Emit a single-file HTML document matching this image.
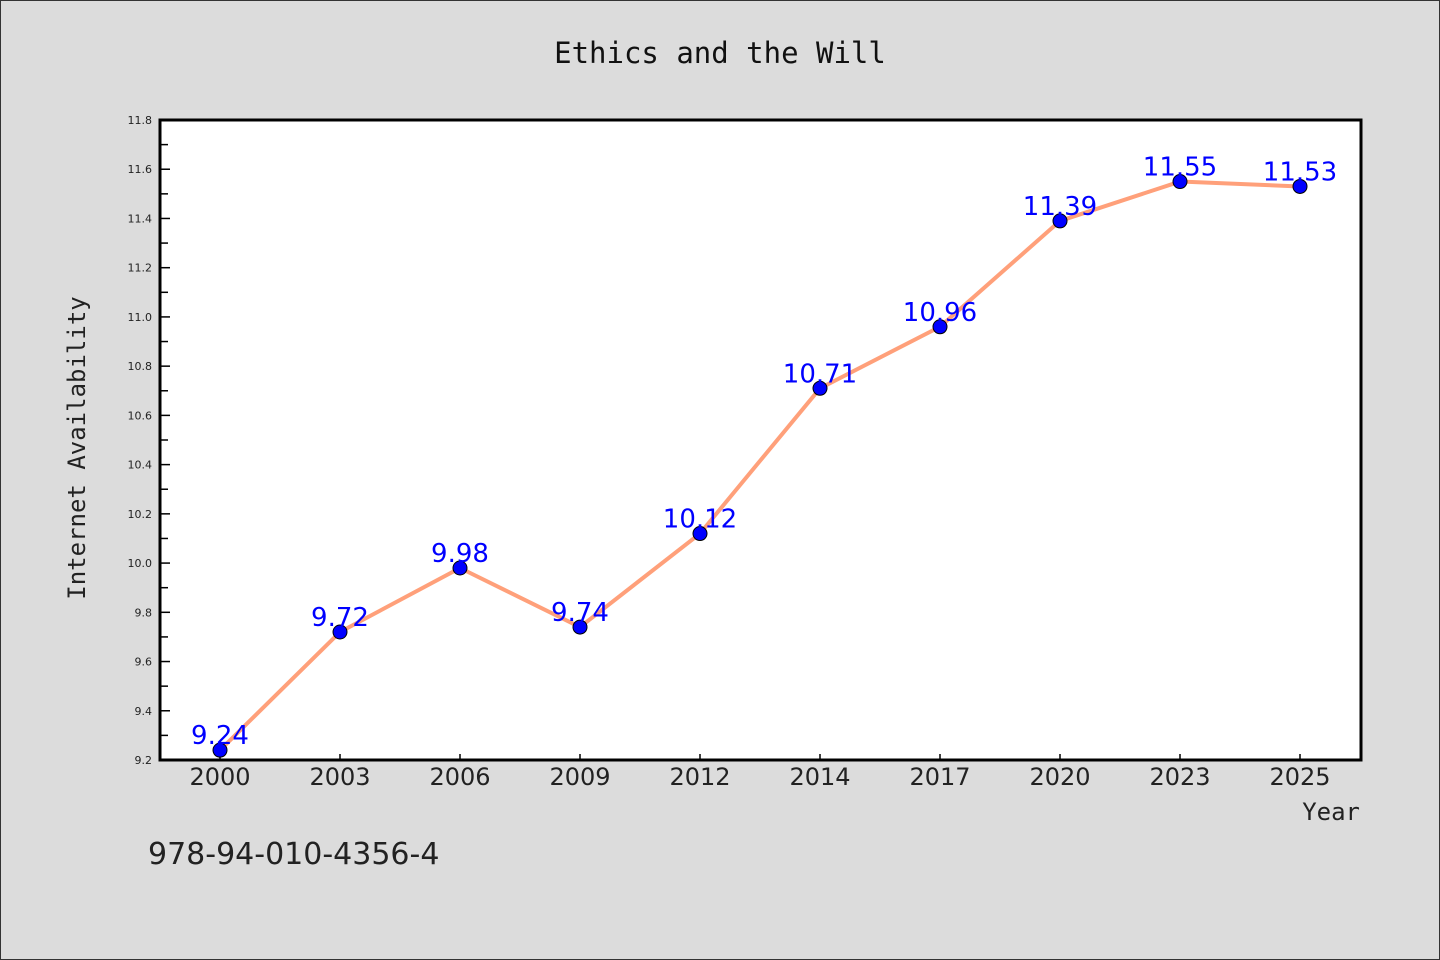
<!DOCTYPE html>
<html><head><meta charset="utf-8"><style>
html,body{margin:0;padding:0;background:#dcdcdc;}
svg{display:block;font-family:"DejaVu Sans","Liberation Sans",sans-serif;}
</style></head><body>
<svg id="chart" width="1440" height="960" viewBox="0 0 1440 960">
<rect x="0.5" y="0.5" width="1439" height="959" fill="#dcdcdc" stroke="#333"/>
<text x="720" y="63" text-anchor="middle" font-size="29" font-family="DejaVu Sans Mono, Liberation Mono, monospace" fill="#111">Ethics and the Will</text>
<rect x="160" y="120" width="1201" height="640" fill="#fff"/>
<g id="yaxis"></g>
<g id="xaxis"></g>
<g id="series"></g>
<rect x="160" y="120" width="1201" height="640" fill="none" stroke="#000" stroke-width="3"/>
<text transform="translate(85,448) rotate(-90)" text-anchor="middle" font-size="24" font-family="DejaVu Sans Mono, Liberation Mono, monospace" fill="#222">Internet Availability</text>
<text x="1360" y="820" text-anchor="end" font-size="24" font-family="DejaVu Sans Mono, Liberation Mono, monospace" fill="#222">Year</text>
<text x="148" y="864" font-size="30" fill="#222">978-94-010-4356-4</text>
</svg>
<script>
const categories=["2000","2003","2006","2009","2012","2014","2017","2020","2023","2025"];
const values=[9.24,9.72,9.98,9.74,10.12,10.71,10.96,11.39,11.55,11.53];
const yTicks=["9.2","9.4","9.6","9.8","10.0","10.2","10.4","10.6","10.8","11.0","11.2","11.4","11.6","11.8"];
const NS="http://www.w3.org/2000/svg";
const x0=160,x1=1360,yTop=120,yBot=760,yMin=9.2,yMax=11.8;
const xs=i=>x0+(x1-x0)/categories.length*(i+0.5);
const ys=v=>yBot-(v-yMin)/(yMax-yMin)*(yBot-yTop);
function mk(tag,attrs,parent){const e=document.createElementNS(NS,tag);for(const k in attrs)e.setAttribute(k,attrs[k]);parent.appendChild(e);return e;}
const ya=document.getElementById('yaxis'),xa=document.getElementById('xaxis'),sg=document.getElementById('series');
yTicks.forEach(t=>{const v=parseFloat(t),y=ys(v);
 const l=mk('line',{x1:160,x2:170,y1:y,y2:y,stroke:'#000','stroke-width':1.5},ya);
 
 
 const tx=mk('text',{x:152,y:y+4,'text-anchor':'end','font-size':11,fill:'#222'},ya);
 tx.textContent=t;
 
 
 if(v<yMax){const ym=ys(v+0.1);const m=mk('line',{x1:160,x2:168,y1:ym,y2:ym,stroke:'#000','stroke-width':1.5},ya);
 
 }
});
categories.forEach((c,i)=>{const x=xs(i);
 const l=mk('line',{x1:x,x2:x,y1:760,y2:754,stroke:'#000','stroke-width':1.5},xa);
 
 
 const t=mk('text',{x:x,y:785,'text-anchor':'middle','font-size':24,fill:'#222'},xa);
 t.textContent=c;
 
 
});
const pts=values.map((v,i)=>xs(i)+','+ys(v)).join(' ');
const pl=mk('polyline',{points:pts,fill:'none',stroke:'#ffa07a','stroke-width':4,'stroke-linejoin':'round'},sg);


values.forEach((v,i)=>{
 const c=mk('circle',{cx:xs(i),cy:ys(v),r:7,fill:'#0000ff',stroke:'#000','stroke-width':1},sg);
 
 
 const t=mk('text',{x:xs(i),y:ys(v)+6-12,'text-anchor':'middle','font-size':26,fill:'#0000ff'},sg);
 t.textContent=v.toFixed(2);
 
 
});
</script>
</body></html>
